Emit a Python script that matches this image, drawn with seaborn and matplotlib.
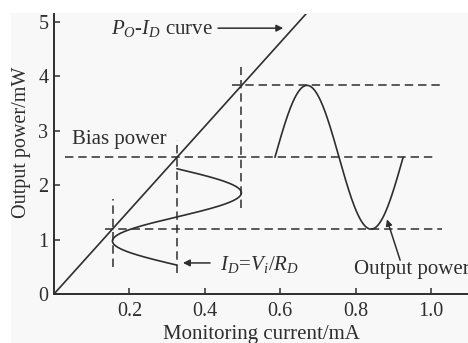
import numpy as np
import matplotlib
matplotlib.use("Agg")
import matplotlib.pyplot as plt
from matplotlib.patches import Rectangle
import seaborn as sns

# --- chart values -------------------------------------------------------
x_ticks = [0.2, 0.4, 0.6, 0.8, 1.0]
x_tick_labels = ["0.2", "0.4", "0.6", "0.8", "1.0"]
y_ticks = [0, 1, 2, 3, 4, 5]
y_tick_labels = ["0", "1", "2", "3", "4", "5"]

# P_O - I_D characteristic (straight line through the origin)
curve_current = [0.0, 0.672]
curve_power = [0.0, 5.17]

# operating levels: peak, bias, trough
level_power = [3.83, 2.51, 1.20]
level_current = [0.497, 0.326, 0.156]

# reference dashed lines
h_line_y = [3.83, 2.51, 1.20]
h_line_x0 = [0.472, 0.029, 0.135]
h_line_x1 = [1.030, 1.016, 1.030]
v_line_x = [0.156, 0.326, 0.497]
v_line_y0 = [0.50, 0.39, 1.58]
v_line_y1 = [1.75, 2.83, 4.17]

# monitoring-current swing (drawn against power) and output-power swing
current_amp = 0.171
current_span = [2.30, 0.53]          # power range covered by one period
power_amp = 1.32
power_span = [0.586, 0.926]          # current range covered by one period

# --- style --------------------------------------------------------------
sns.set_style("ticks")
plt.rcParams["font.family"] = ["Liberation Serif", "DejaVu Serif"]
plt.rcParams["mathtext.fontset"] = "custom"
plt.rcParams["mathtext.rm"] = "Liberation Serif"
plt.rcParams["mathtext.it"] = "Liberation Serif:italic"

ink = "#2e2e2e"
fig = plt.figure(figsize=(4.68, 3.43), dpi=100, facecolor="white")
fig.patches.append(Rectangle((11 / 468, 0), 1, 1 - 13 / 343,
                             transform=fig.transFigure, facecolor="#f8f8f8",
                             edgecolor="none", zorder=-10))
ax = fig.add_axes([54 / 468, 49 / 343, 414 / 468, 280 / 343])
ax.set_facecolor("none")

# characteristic line
sns.lineplot(x=curve_current, y=curve_power, ax=ax, color=ink, lw=1.2,
             estimator=None, sort=False)

# dashed guides
dash = dict(color=ink, lw=1.1, linestyles=(0, (5.5, 3.2)))
ax.hlines(h_line_y, h_line_x0, h_line_x1, **dash)
ax.vlines(v_line_x, v_line_y0, v_line_y1, **dash)

# monitoring current waveform: one period running down the power axis
t = np.linspace(0, 1, 300)
wave_y = current_span[0] + (current_span[1] - current_span[0]) * t
wave_x = level_current[1] + current_amp * np.sin(2 * np.pi * t)
sns.lineplot(x=wave_x, y=wave_y, ax=ax, color=ink, lw=1.2,
             estimator=None, sort=False)

# output power waveform: one period along the current axis
px = power_span[0] + (power_span[1] - power_span[0]) * t
py = level_power[1] + power_amp * np.sin(2 * np.pi * t)
sns.lineplot(x=px, y=py, ax=ax, color=ink, lw=1.2, estimator=None, sort=False)

# annotations
fs = 15
ax.text(0.152, 4.88, r"$P_O$-$I_D$ curve", fontsize=fs, color=ink,
        va="center", ha="left")
ax.annotate("", xy=(0.608, 4.88), xytext=(0.435, 4.88),
            arrowprops=dict(arrowstyle="-|>", color=ink, lw=1.1,
                            mutation_scale=10, shrinkA=0, shrinkB=0))
ax.text(0.048, 2.84, "Bias power", fontsize=fs, color=ink,
        va="center", ha="left")
ax.text(0.44, 0.55, r"$I_D\!=\!V_i/R_D$", fontsize=fs, color=ink,
        va="center", ha="left")
ax.annotate("", xy=(0.342, 0.57), xytext=(0.414, 0.57),
            arrowprops=dict(arrowstyle="-|>", color=ink, lw=1.1,
                            mutation_scale=10, shrinkA=0, shrinkB=0))
ax.text(0.795, 0.45, "Output power", fontsize=fs, color=ink,
        va="center", ha="left", clip_on=False)
ax.annotate("", xy=(0.883, 1.37), xytext=(0.918, 0.62),
            arrowprops=dict(arrowstyle="-|>", color=ink, lw=1.1,
                            mutation_scale=9, shrinkA=0, shrinkB=0))

# axes
ax.set_xlim(0, 1.098)
ax.set_ylim(0, 5.14)
ax.set_xticks(x_ticks)
ax.set_xticklabels(x_tick_labels)
ax.set_yticks(y_ticks)
ax.set_yticklabels(y_tick_labels)
ax.tick_params(direction="in", length=4, width=1.1, colors=ink,
               labelsize=14.5, pad=6)
ax.tick_params(axis="y", pad=4)
for side in ("top", "right"):
    ax.spines[side].set_visible(False)
for side in ("left", "bottom"):
    ax.spines[side].set_color(ink)
    ax.spines[side].set_linewidth(1.4)
ax.set_xlabel("Monitoring current/mA", fontsize=15, color=ink, labelpad=3)
ax.set_ylabel("Output power/mW", fontsize=14.5, color=ink,
              va="center")
ax.yaxis.set_label_coords(-0.078, 0.54)

fig.savefig("out.png", dpi=100, facecolor=fig.get_facecolor())
